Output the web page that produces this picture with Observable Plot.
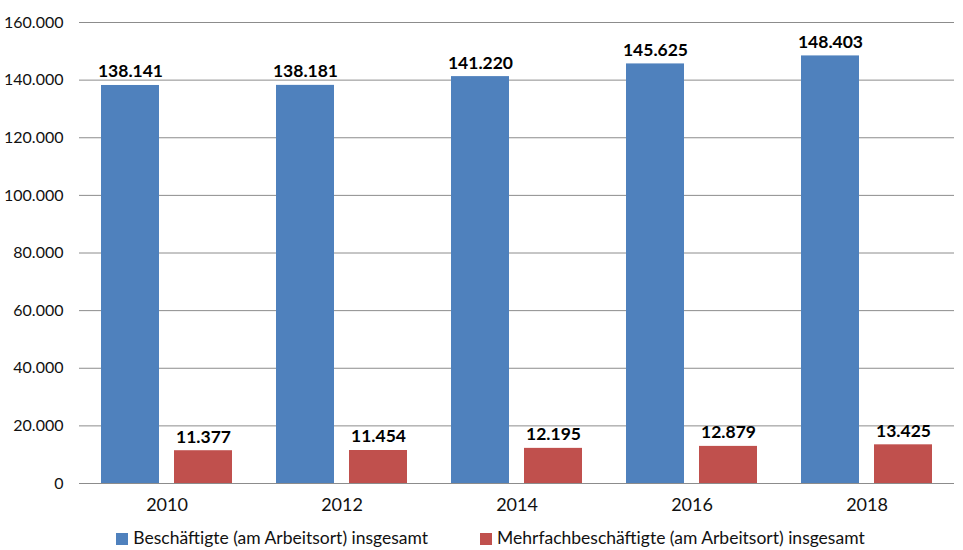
<!DOCTYPE html>
<html>
<head>
<meta charset="utf-8">
<script src="https://cdn.jsdelivr.net/npm/d3@7"></script>
<script src="https://cdn.jsdelivr.net/npm/@observablehq/plot@0.6"></script>
<style>
  body { margin: 0; background: #fff; font-family: Lato, "Open Sans", sans-serif; }
  #legend { display: flex; justify-content: center; gap: 52px; height: 25px; align-items: center; font-size: 17.5px; color: #111; margin-left: 18px; }
  #legend span.sw { display: inline-block; width: 12px; height: 12px; margin-right: 5px; vertical-align: -1px; }
</style>
</head>
<body>
<div id="chart"></div>
<div id="legend"></div>
<script>
const years = ["2010", "2012", "2014", "2016", "2018"];
const seriesNames = ["Beschäftigte (am Arbeitsort) insgesamt", "Mehrfachbeschäftigte (am Arbeitsort) insgesamt"];
const beschaeftigte = [138141, 138181, 141220, 145625, 148403];
const mehrfach = [11377, 11454, 12195, 12879, 13425];
const colors = ["#4F81BD", "#C0504D"];
const yTicks = [0, 20000, 40000, 60000, 80000, 100000, 120000, 140000, 160000];

const de = d3.formatLocale({decimal: ",", thousands: ".", grouping: [3], currency: ["", " €"]});
const fmt = de.format(",d");

const data = [];
years.forEach((y, i) => {
  data.push({year: y, series: seriesNames[0], value: beschaeftigte[i]});
  data.push({year: y, series: seriesNames[1], value: mehrfach[i]});
});

const chart = Plot.plot({
  width: 963,
  height: 525,
  marginLeft: 78,
  marginRight: 8,
  marginTop: 22,
  marginBottom: 42,
  style: {fontFamily: "Lato, 'Open Sans', sans-serif", fontSize: "16px", color: "#111", background: "#fff"},
  fx: {domain: years, padding: 0, axis: "bottom", tickSize: 0, tickPadding: 15, label: null},
  x: {domain: seriesNames, paddingInner: 0.2027, paddingOuter: 0.287, axis: null},
  y: {domain: [0, 160000], ticks: yTicks, tickFormat: d => fmt(d), tickSize: 0, tickPadding: 16, label: null},
  color: {domain: seriesNames, range: colors},
  marks: [
    Plot.ruleY(yTicks, {stroke: "#8c8c8c", strokeWidth: 1}),
    Plot.barY(data, {fx: "year", x: "series", y: "value", fill: "series"}),
    Plot.text(data, {fx: "year", x: "series", y: "value", text: d => fmt(d.value), dy: -8, lineAnchor: "bottom", fontWeight: "bold", fontSize: 17.5, fill: "#000"})
  ]
});
d3.select(chart).selectAll("g[aria-label='fx-axis tick label'] text").style("font-size", "18px");
document.getElementById("chart").appendChild(chart);

const legend = document.getElementById("legend");
seriesNames.forEach((n, i) => {
  const item = document.createElement("div");
  const sw = document.createElement("span");
  sw.className = "sw";
  sw.style.background = colors[i];
  item.appendChild(sw);
  item.appendChild(document.createTextNode(n));
  legend.appendChild(item);
});
</script>
</body>
</html>
